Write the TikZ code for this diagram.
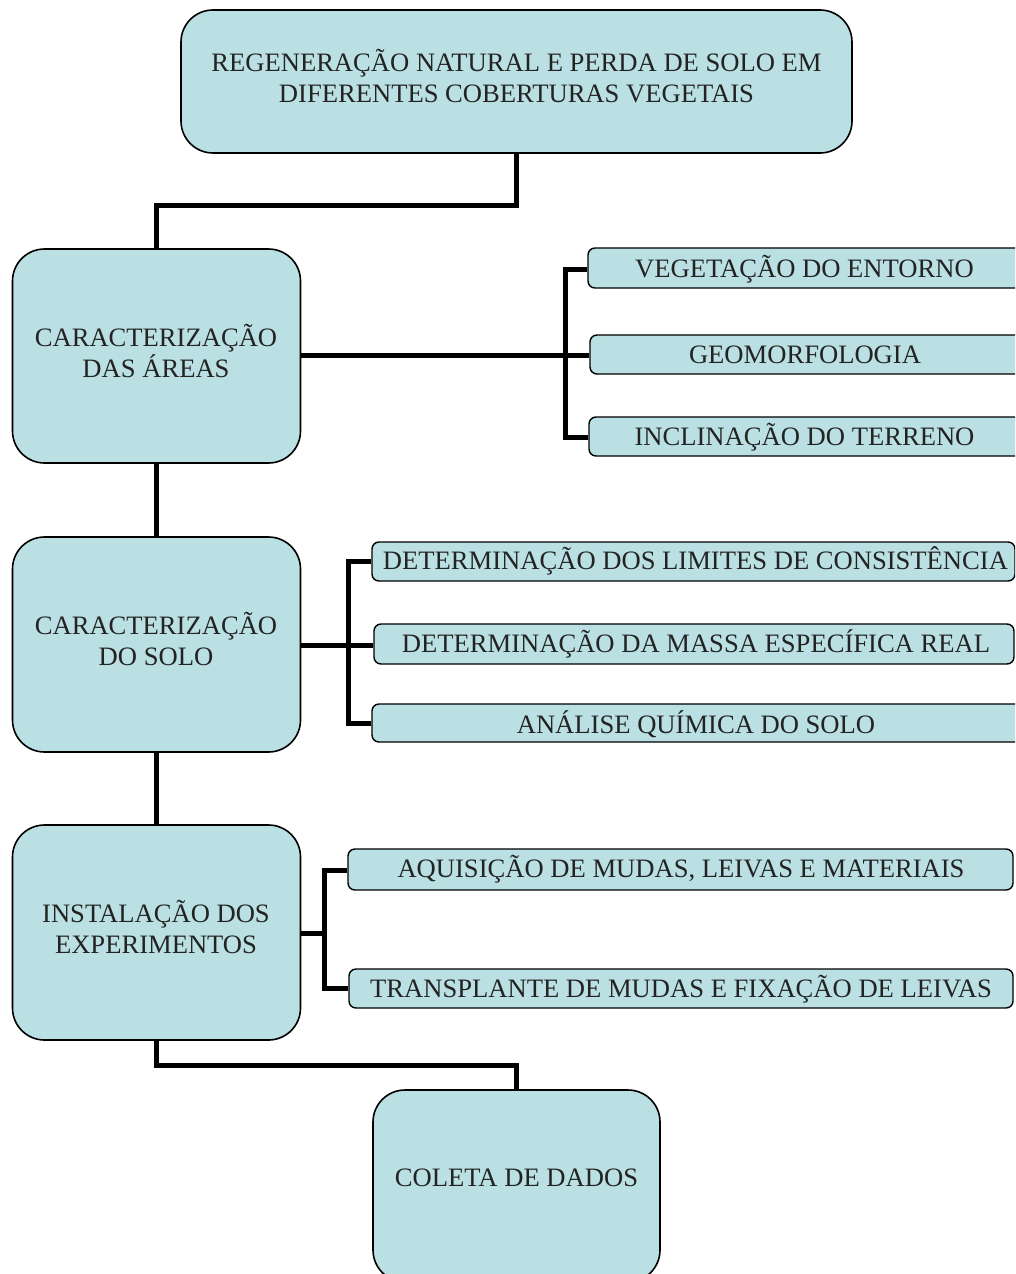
\documentclass[tikz,border=0pt]{standalone}
\usepackage{fontspec}
\setmainfont{Liberation Serif}
\definecolor{boxfill}{RGB}{186,224,227}
\definecolor{txt}{RGB}{35,35,35}
\begin{document}
\begin{tikzpicture}[x=1pt,y=-1pt,
  bigbox/.style={draw=black,line width=1.6pt,fill=boxfill,rounded corners=32pt,inner sep=0pt},
  smallbox/.style={draw=black,line width=1.4pt,fill=boxfill,rounded corners=7pt,inner sep=0pt},
  lbl/.style={text=txt,font=\fontsize{26.6}{31}\selectfont,anchor=base,inner sep=0pt},
  conn/.style={line width=5pt,draw=black}]
\useasboundingbox (0,0) rectangle (1015,1274);
\clip (0,0) rectangle (1015,1274);
% big boxes
\node[bigbox,minimum width=671pt,minimum height=143pt] (top) at (516.5,81.5) {};
\node[bigbox,minimum width=288pt,minimum height=214pt] (ca) at (156.5,356) {};
\node[bigbox,minimum width=288pt,minimum height=215pt] (cs) at (156.5,644.5) {};
\node[bigbox,minimum width=288pt,minimum height=215pt] (ie) at (156.5,932.5) {};
\node[bigbox,minimum width=287pt,minimum height=192pt] (cd) at (516.5,1186) {};
% small boxes
\node[smallbox,minimum width=440pt,minimum height=40pt] (veg) at (808,268) {};
\node[smallbox,minimum width=440pt,minimum height=39pt] (geo) at (810,354.5) {};
\node[smallbox,minimum width=440pt,minimum height=39pt] (inc) at (809,436.5) {};
\node[smallbox,minimum width=643pt,minimum height=39pt] (dlc) at (693.5,561.5) {};
\node[smallbox,minimum width=640pt,minimum height=40pt] (dme) at (694,644) {};
\node[smallbox,minimum width=660pt,minimum height=38pt] (aqs) at (702,723) {};
\node[smallbox,minimum width=665pt,minimum height=41pt] (aqu) at (680.5,869.5) {};
\node[smallbox,minimum width=664pt,minimum height=39pt] (tra) at (681,988.5) {};
% connectors
\draw[conn] (top.south) -- (top.south |- 0,205) -- (ca.north |- 0,205) -- (ca.north);
\coordinate (b1) at (565,355);
\draw[conn] (ca.east |- b1) -- (b1);
\draw[conn] (veg.west |- 0,269) -- (565,269) -- (565,437) -- (inc.west |- 0,437);
\draw[conn] (b1) -- (geo.west |- b1);
\draw[conn] (ca.south) -- (cs.north);
\coordinate (b2) at (348,645);
\draw[conn] (cs.east |- b2) -- (b2);
\draw[conn] (dlc.west |- 0,561) -- (348,561) -- (348,723) -- (aqs.west |- 0,723);
\draw[conn] (b2) -- (dme.west |- b2);
\draw[conn] (cs.south) -- (ie.north);
\coordinate (b3) at (324.5,933);
\draw[conn] (ie.east |- b3) -- (b3);
\draw[conn] (aqu.west |- 0,870) -- (324.5,870) -- (324.5,988.5) -- (tra.west |- 0,988.5);
\draw[conn] (ie.south) -- (ie.south |- 0,1065) -- (cd.north |- 0,1065) -- (cd.north);
% labels
\node[lbl] (t1) at (516.5,71.7) {REGENERAÇÃO NATURAL E PERDA DE SOLO EM};
\node[lbl] (t2) at (516.5,102.7) {DIFERENTES COBERTURAS VEGETAIS};
\node[lbl] (ca1) at (156,346) {CARACTERIZAÇÃO};
\node[lbl] (ca2) at (156,377) {DAS ÁREAS};
\node[lbl] (cs1) at (156,634) {CARACTERIZAÇÃO};
\node[lbl] (cs2) at (156,665) {DO SOLO};
\node[lbl] (ie1) at (156,922) {INSTALAÇÃO DOS};
\node[lbl] (ie2) at (156,953) {EXPERIMENTOS};
\node[lbl] (cd1) at (516.5,1186) {COLETA DE DADOS};
\node[lbl] (veg1) at (804.5,277) {VEGETAÇÃO DO ENTORNO};
\node[lbl] (geo1) at (805,363) {GEOMORFOLOGIA};
\node[lbl] (inc1) at (804.5,445) {INCLINAÇÃO DO TERRENO};
\node[lbl] (dlc1) at (695.5,569) {DETERMINAÇÃO DOS LIMITES DE CONSISTÊNCIA};
\node[lbl] (dme1) at (696,652) {DETERMINAÇÃO DA MASSA ESPECÍFICA REAL};
\node[lbl] (aqs1) at (696,733) {ANÁLISE QUÍMICA DO SOLO};
\node[lbl] (aqu1) at (681,877) {AQUISIÇÃO DE MUDAS, LEIVAS E MATERIAIS};
\node[lbl] (tra1) at (681,997) {TRANSPLANTE DE MUDAS E FIXAÇÃO DE LEIVAS};
\end{tikzpicture}
\end{document}
